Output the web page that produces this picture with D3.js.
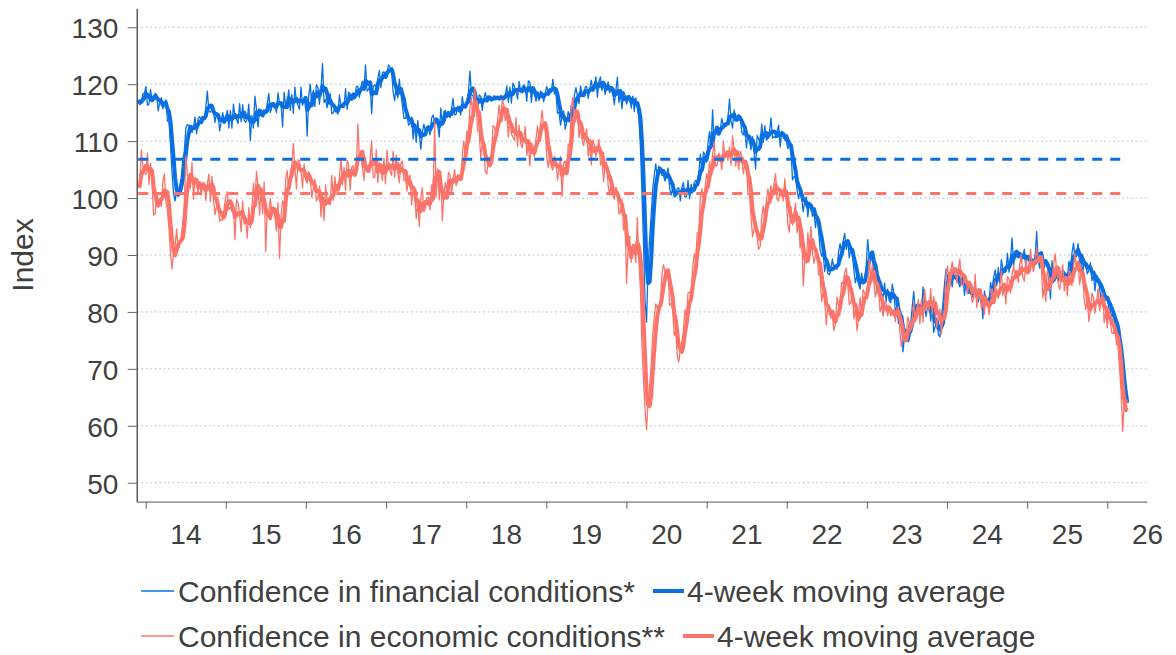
<!DOCTYPE html>
<html><head><meta charset="utf-8">
<script src="https://cdn.jsdelivr.net/npm/d3@7"></script>
<style>
body{margin:0;background:#fff}
svg{display:block}
text{font-family:"Liberation Sans",Arial,Helvetica,sans-serif;fill:#404040}
</style>
</head><body>
<svg id="c" width="1176" height="655"></svg>
<script>
// ---- DATA ----
const startDate = new Date(2013, 10, 28);   // first weekly observation
const financial = [
117.2,116.4,117.0,118.3,118.4,119.6,116.3,116.5,119.1,116.9,
117.3,118.4,118.2,115.3,116.8,117.6,115.7,116.4,117.3,113.5,
113.5,109.5,104.5,100.8,99.5,101.4,100.6,102.2,103.5,106.8,
108.2,112.3,112.9,112.7,112.3,111.5,112.5,114.2,111.3,114.0,
114.3,113.7,114.2,113.8,115.9,118.8,115.2,115.1,115.6,115.1,
113.3,115.0,114.8,111.8,113.4,115.0,113.4,114.0,115.4,112.3,
115.4,112.3,116.5,114.2,113.9,113.1,116.6,113.4,116.4,113.6,
113.3,113.9,116.5,110.1,114.5,112.3,117.9,115.6,112.5,115.4,
115.5,114.7,115.3,114.9,116.6,118.4,115.0,116.0,116.7,116.4,
115.0,118.5,116.7,116.5,112.5,118.6,116.2,116.7,119.0,115.4,
118.2,114.9,119.5,117.1,116.3,115.6,119.5,116.3,117.2,117.4,
110.9,117.9,120.0,116.4,118.9,116.1,119.9,119.4,116.5,119.2,
123.6,116.8,117.3,115.9,117.1,118.4,114.8,115.0,115.8,115.7,
114.7,118.1,116.2,115.9,115.9,119.2,115.6,118.6,118.3,117.2,
118.5,117.4,119.6,119.6,117.7,119.6,120.5,118.9,123.4,118.8,
119.1,120.0,114.8,119.6,119.9,119.4,121.0,122.4,119.4,122.0,
122.2,121.5,122.1,123.4,122.9,122.2,118.6,117.1,120.0,117.6,
120.9,118.3,116.3,114.0,114.0,115.0,112.8,113.1,114.2,110.4,
113.1,109.8,113.6,111.2,108.6,111.5,113.0,111.7,112.6,112.5,
111.1,114.0,114.6,113.3,113.5,112.9,110.7,115.8,112.8,115.2,
115.4,114.3,114.9,114.1,115.7,117.5,114.6,114.7,116.1,116.1,
114.6,117.8,116.1,115.8,117.2,118.6,122.3,118.1,118.0,116.4,
117.2,115.9,118.1,117.9,115.4,117.4,118.5,117.2,117.7,117.2,
117.1,117.7,118.0,117.3,117.7,117.2,118.0,117.8,117.2,118.1,
119.7,116.8,119.5,116.7,120.2,119.5,119.0,117.4,120.5,118.7,
118.5,119.9,119.5,117.0,120.6,120.4,116.8,119.5,118.7,117.0,
118.4,117.1,118.8,118.5,116.9,118.4,119.6,118.3,119.2,118.6,
120.9,118.3,118.6,114.9,115.1,112.8,114.4,115.3,112.1,113.3,
115.2,114.0,116.3,114.9,118.1,119.4,117.9,116.6,119.7,118.0,
117.9,119.5,119.6,117.5,119.1,120.7,118.8,119.8,121.3,117.7,
120.4,121.3,118.9,120.3,118.2,119.4,120.4,118.5,119.1,118.5,
116.4,118.9,121.2,116.8,118.3,115.7,118.7,118.1,116.5,117.7,
118.0,115.8,117.9,115.2,117.6,116.0,114.0,109.0,101.0,92.0,
82.0,78.2,88.0,93.0,97.0,101.5,104.0,106.0,103.5,105.6,
105.3,104.0,104.0,103.0,104.1,105.3,101.8,100.5,101.7,100.2,
100.3,101.7,101.8,99.5,101.9,102.7,100.2,100.3,103.1,99.9,
102.4,100.9,102.7,103.1,102.8,104.4,107.7,104.8,108.1,107.6,
106.3,109.7,111.7,108.7,115.5,109.4,112.5,112.1,111.2,112.1,
114.0,112.7,112.8,112.6,114.2,117.4,113.6,112.3,115.5,113.7,
113.6,114.6,114.3,111.5,111.1,112.7,108.8,111.1,110.4,108.5,
110.8,108.0,105.1,111.0,110.3,109.9,113.0,109.8,112.7,110.2,
110.5,111.4,114.1,110.5,110.8,110.6,111.7,112.8,109.0,111.7,
111.6,110.2,110.0,108.7,109.4,108.8,103.2,103.8,103.7,101.4,
99.9,101.4,99.9,97.6,99.5,100.2,96.7,99.3,98.6,96.8,
97.6,94.8,97.1,94.4,91.0,89.8,90.4,87.1,89.2,86.8,
86.5,87.4,89.3,87.6,87.8,87.5,90.5,92.0,90.4,92.4,
93.8,91.0,92.6,89.5,91.1,90.3,87.3,85.1,86.5,84.9,
84.0,86.8,85.0,85.4,88.2,92.7,89.6,90.1,89.5,86.5,
86.9,83.4,85.9,84.0,83.2,82.6,85.1,81.8,84.0,82.0,
81.6,84.9,83.3,80.3,80.8,78.0,79.5,78.2,73.0,75.9,
76.0,75.2,78.0,77.7,81.0,83.6,79.8,79.9,80.7,81.3,
79.8,84.4,81.3,79.2,81.0,82.0,78.4,80.9,76.4,77.5,
78.8,76.0,75.6,79.0,81.5,84.9,87.5,85.9,86.7,86.6,
84.4,86.9,86.9,85.4,85.2,84.4,85.5,86.5,82.9,85.2,
83.2,83.3,83.8,82.5,83.8,85.2,81.9,81.8,82.9,82.6,
78.8,83.7,82.0,81.5,81.5,85.2,83.7,86.1,87.4,84.6,
87.8,85.0,89.2,87.5,87.1,87.1,90.3,87.0,89.3,93.0,
88.1,90.6,90.7,89.7,89.9,88.8,90.0,91.0,87.8,89.9,
89.6,88.2,88.6,87.8,89.6,94.1,89.0,87.7,90.5,88.7,
87.7,88.8,88.4,85.8,82.3,89.0,85.2,87.5,87.0,85.4,
86.8,85.5,87.3,87.1,84.8,86.1,88.9,87.7,90.3,92.1,
89.3,90.3,92.0,88.2,89.4,86.6,89.3,88.5,86.7,87.3,
88.6,85.5,86.4,83.7,86.5,86.0,84.1,82.2,83.7,82.2,
82.0,82.3,80.7,80.1,79.1,79.9,77.1,76.9,75.6,72.0,
70.5,67.0,64.0,62.5,62.6
];
const economic = [
102.4,101.8,108.5,105.7,104.6,104.1,107.9,102.4,106.1,102.6,
97.0,97.2,100.7,99.8,99.8,98.5,102.9,104.2,99.3,97.8,
94.8,90.2,87.6,90.4,91.6,94.6,90.8,91.8,93.3,95.8,
98.8,107.4,104.3,102.9,101.7,106.2,99.8,103.6,103.1,100.9,
102.7,100.5,102.7,102.7,99.6,102.5,104.2,99.4,103.8,99.8,
97.1,98.6,98.9,95.9,96.3,96.1,98.3,100.3,101.1,98.0,
98.4,97.7,97.8,92.7,99.7,99.2,97.0,94.1,99.5,95.4,
95.9,93.0,98.3,94.8,98.0,102.6,99.4,104.7,102.1,97.0,
101.9,97.2,102.8,90.6,97.9,97.5,99.9,97.5,97.6,96.9,
94.2,99.2,89.4,96.7,99.5,98.4,103.2,104.8,100.9,104.7,
105.5,109.6,105.4,101.6,106.7,106.6,104.8,101.8,106.0,103.2,
102.6,104.7,103.6,100.1,101.8,103.3,99.5,100.0,102.1,96.7,
100.8,96.0,102.3,99.3,99.3,98.8,104.0,99.6,103.7,101.3,
101.3,103.4,107.0,102.4,105.4,101.3,106.6,105.8,101.4,105.4,
105.7,103.8,104.8,113.0,107.0,107.1,105.4,103.1,107.1,104.5,
104.5,106.7,110.1,103.6,103.6,108.5,102.7,106.2,105.6,103.1,
107.0,102.5,108.4,105.6,104.7,104.0,108.2,103.6,107.5,104.5,
102.7,106.1,106.5,103.1,103.3,101.3,103.0,104.0,98.8,101.6,
101.0,96.4,99.4,95.0,100.0,101.8,97.6,98.1,100.1,100.1,
97.9,102.3,99.4,113.5,100.2,105.1,99.7,103.8,96.0,100.5,
102.7,101.0,104.5,104.1,100.8,103.2,105.0,102.2,104.1,103.7,
103.2,107.4,110.0,107.8,111.8,110.9,116.0,117.6,113.2,119.4,
116.9,111.8,111.8,107.1,109.5,109.3,104.7,104.2,106.9,107.2,
107.5,112.7,112.5,111.1,113.7,116.3,113.4,117.2,116.5,113.6,
114.9,110.7,114.4,111.3,110.7,110.1,114.1,109.1,112.8,109.6,
108.8,110.3,112.6,107.5,109.6,105.7,109.7,109.0,107.2,110.4,
112.7,110.2,112.9,115.4,112.4,112.0,107.3,105.4,107.6,105.5,
104.9,107.3,106.5,103.2,105.1,107.3,100.3,106.2,106.5,104.4,
109.5,109.0,115.9,117.7,113.1,114.4,115.4,110.6,112.6,110.2,
109.2,110.9,112.1,107.3,109.7,105.8,110.2,109.4,107.3,108.7,
110.3,105.8,106.7,102.9,106.0,106.3,102.2,100.5,102.7,100.5,
99.8,101.9,100.9,97.2,97.5,99.7,94.4,96.1,85.0,91.5,
93.3,88.7,91.9,91.8,88.7,96.6,89.0,84.0,74.0,68.0,
63.0,59.3,64.5,67.0,70.5,76.0,79.0,81.4,80.7,81.2,
81.4,86.5,88.3,87.2,86.7,87.2,81.2,81.5,80.5,75.9,
76.7,72.3,71.2,73.7,74.7,76.6,80.4,79.3,83.3,83.5,
83.2,87.7,90.2,89.0,93.9,94.1,99.9,101.6,99.5,101.2,
104.3,103.1,106.4,104.6,107.6,109.8,105.6,105.8,107.9,107.2,
105.0,110.0,107.2,108.3,106.6,109.0,105.8,110.9,108.6,105.6,
107.4,105.0,108.2,107.3,104.3,105.8,106.6,100.6,100.8,96.9,
93.2,94.6,95.5,92.9,91.0,91.5,96.8,98.6,96.4,99.6,
101.6,99.7,102.2,100.0,102.6,104.3,99.8,99.5,101.5,101.5,
99.5,103.4,99.7,95.3,94.0,98.5,95.3,97.1,99.1,93.9,
96.1,91.2,93.8,84.6,88.8,88.6,93.9,91.0,95.0,90.6,
88.5,90.1,90.8,86.5,86.5,81.8,83.5,82.4,77.7,80.9,
81.0,78.9,79.4,76.7,78.1,82.6,81.1,81.4,85.2,85.0,
86.8,87.7,84.8,81.3,81.6,84.1,78.8,80.6,76.7,78.8,
82.5,80.0,83.9,83.3,82.8,84.8,89.3,85.1,88.4,85.2,
82.6,83.9,85.0,80.1,81.0,79.2,81.8,81.4,79.3,80.8,
79.3,79.6,80.5,78.3,80.6,80.9,76.3,73.9,76.1,75.3,
74.8,79.1,78.3,76.7,78.7,81.5,78.3,80.4,82.2,77.9,
82.1,78.2,84.0,81.7,80.8,80.3,84.1,79.5,82.7,79.8,
77.3,79.4,80.5,76.1,79.3,80.3,86.4,88.1,85.4,86.8,
88.8,87.1,87.4,85.1,87.5,89.3,84.8,84.6,86.5,85.6,
83.2,85.3,84.5,81.7,82.2,86.6,80.8,84.1,83.8,80.6,
82.3,79.6,82.9,81.9,79.5,81.5,84.1,81.8,85.3,82.9,
82.4,84.4,87.3,82.8,84.8,81.4,86.2,85.8,83.4,86.5,
88.2,86.1,87.2,85.2,88.2,90.1,86.0,85.4,89.1,87.3,
86.9,91.0,88.6,87.1,88.7,91.3,88.6,89.9,88.6,82.5,
84.3,81.8,87.3,86.3,83.9,85.5,88.1,90.2,87.6,85.0,
83.9,85.8,88.3,83.7,86.1,82.8,87.2,87.0,84.6,88.0,
90.3,87.6,88.6,84.8,87.0,86.7,82.1,80.4,82.7,78.3,
80.5,83.3,82.5,79.8,81.7,84.1,80.2,81.9,83.3,78.1,
80.2,77.2,80.6,78.2,76.3,76.2,77.5,74.2,74.2,70.1,
66.0,59.0,64.0,63.0,64.6
];
const financialAverage = 106.8;
const economicAverage = 100.8;
const yTicks = [50, 60, 70, 80, 90, 100, 110, 120, 130];
const years = [2014, 2015, 2016, 2017, 2018, 2019, 2020, 2021, 2022, 2023, 2024, 2025, 2026];
const yearLabels = ["14","15","16","17","18","19","20","21","22","23","24","25","26"];
const yAxisTitle = "Index";
const legendRows = [
  {raw: "Confidence in financial conditions*", avg: "4-week moving average", key: "fin"},
  {raw: "Confidence in economic conditions**", avg: "4-week moving average", key: "eco"}
];
const maWindow = 4;

// ---- STYLE ----
const colors = {fin: "#0a70e2", eco: "#fb7369"};
const svg = d3.select("#c");

const dates = financial.map((_, i) => d3.timeDay.offset(startDate, 7 * i));
function movingAverage(arr, n) {
  return arr.map((v, i) => d3.mean(arr.slice(Math.max(0, i - n + 1), i + 1)));
}
const finMA = movingAverage(financial, maWindow);
const ecoMA = movingAverage(economic, maWindow);

const x = d3.scaleTime()
  .domain([new Date(2013, 10, 21), new Date(2026, 6, 1)])
  .range([136.7, 1147]);
const y = d3.scaleLinear().domain([46.67, 133.33]).range([501.7, 8.3]);

// gridlines
svg.append("g").selectAll("line").data(yTicks).join("line")
  .attr("x1", x.range()[0]).attr("x2", x.range()[1])
  .attr("y1", d => y(d)).attr("y2", d => y(d))
  .attr("stroke", "#b7c8d0").attr("stroke-width", 1)
  .attr("stroke-dasharray", "2,2.5");

const line = d3.line().x((d, i) => x(dates[i])).y(d => y(d));

function series(vals, color, width) {
  svg.append("path").datum(vals)
    .attr("fill", "none").attr("stroke", color)
    .attr("stroke-width", width).attr("stroke-linejoin", "round")
    .attr("d", line);
}
series(financial, colors.fin, 1.3);
series(finMA, colors.fin, 4);
series(economic, colors.eco, 1.3);
series(ecoMA, colors.eco, 4);

// long-run averages
[[financialAverage, colors.fin], [economicAverage, colors.eco]].forEach(([v, c]) => {
  svg.append("line")
    .attr("x1", x(dates[0])).attr("x2", x(dates[dates.length - 1]))
    .attr("y1", y(v)).attr("y2", y(v))
    .attr("stroke", c).attr("stroke-width", 3)
    .attr("stroke-dasharray", "10,8");
});

// y axis
const ya = svg.append("g").attr("transform", "translate(136.7,0)")
  .call(d3.axisLeft(y).tickValues(yTicks).tickSize(9).tickSizeOuter(0).tickPadding(9.4));
ya.select(".domain").attr("stroke", "#333").attr("stroke-width", 1.2);
ya.selectAll(".tick line").attr("stroke", "#666");
ya.selectAll(".tick text").attr("font-size", 28).attr("fill", "#404040")
  .attr("font-family", '"Liberation Sans",Arial,sans-serif').attr("dy", "0.37em");

// x axis ticks at year starts
const xa = svg.append("g").attr("transform", "translate(0,501.7)")
  .call(d3.axisBottom(x).tickValues(years.map(yv => new Date(yv, 0, 1)))
    .tickSize(7).tickSizeOuter(0).tickFormat(() => ""));
xa.select(".domain").attr("stroke", "#777").attr("stroke-width", 1.2);
xa.selectAll(".tick line").attr("stroke", "#666");

// x labels at mid-year
const xl = svg.append("g").attr("transform", "translate(0,501.7)")
  .call(d3.axisBottom(x).tickValues(years.map(yv => new Date(yv, 6, 1)))
    .tickSize(0).tickPadding(22).tickFormat((d, i) => yearLabels[i]));
xl.select(".domain").remove();
xl.selectAll(".tick text").attr("font-size", 28).attr("fill", "#404040")
  .attr("font-family", '"Liberation Sans",Arial,sans-serif');

// y title
svg.append("text").attr("transform", "translate(33,255) rotate(-90)")
  .attr("text-anchor", "middle").attr("font-size", 30).text(yAxisTitle);

// legend
const rowY = [591, 636];
legendRows.forEach((r, k) => {
  const yc = rowY[k], c = colors[r.key];
  const g = svg.append("g");
  g.append("line").attr("x1", 141).attr("x2", 174).attr("y1", yc).attr("y2", yc)
    .attr("stroke", c).attr("stroke-width", 1.3);
  const t = g.append("text").attr("x", 178).attr("y", yc + 10.7)
    .attr("font-size", 30).text(r.raw);
  const w = t.node().getComputedTextLength();
  const x2 = 178 + w + 18;
  g.append("line").attr("x1", x2).attr("x2", x2 + 31).attr("y1", yc).attr("y2", yc)
    .attr("stroke", c).attr("stroke-width", 4);
  g.append("text").attr("x", x2 + 34).attr("y", yc + 10.7)
    .attr("font-size", 30).text(r.avg);
});
</script>
</body></html>
